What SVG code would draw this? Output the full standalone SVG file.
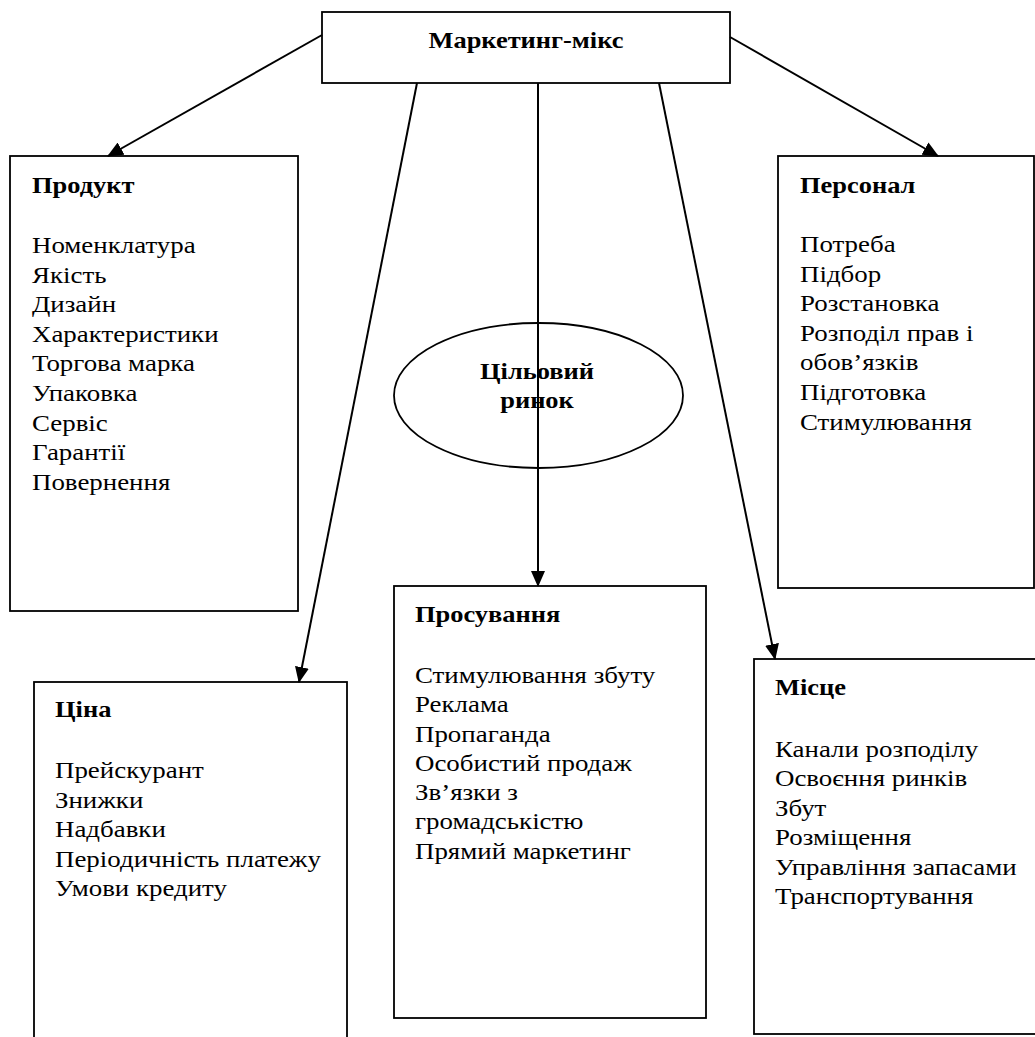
<svg xmlns="http://www.w3.org/2000/svg" width="1035" height="1037" viewBox="0 0 1035 1037">
<defs>
<style>
.box{fill:#fff;stroke:#000;stroke-width:1.8}
.t{font-family:"Liberation Serif","Times New Roman",serif;font-size:23px;fill:#000}
.h{font-family:"Liberation Serif","Times New Roman",serif;font-size:23px;font-weight:bold;fill:#000}
.c{stroke:#000;stroke-width:2;fill:none;marker-end:url(#ah)}
</style>
<marker id="ah" markerWidth="16" markerHeight="14" refX="15" refY="7" orient="auto" markerUnits="userSpaceOnUse">
<path d="M0,0 L16,7 L0,14 Z" fill="#000"/>
</marker>
</defs>
<rect width="1035" height="1037" fill="#fff"/>

<g id="node-mix">
<rect class="box" x="322" y="12" width="408" height="71"/>
<g transform="translate(526,0) scale(1.15,1)">
<text class="h" x="0" y="48" text-anchor="middle">Маркетинг-мікс</text>
</g>
</g>

<g id="node-product">
<rect class="box" x="10" y="156" width="288" height="455"/>
<g transform="translate(32,0) scale(1.15,1)">
<text class="h" x="0" y="193">Продукт</text>
</g>
<g transform="translate(32,0) scale(1.17,1)">
<text class="t" x="0" y="253">Номенклатура</text>
<text class="t" x="0" y="282.6">Якість</text>
<text class="t" x="0" y="312.2">Дизайн</text>
<text class="t" x="0" y="341.8">Характеристики</text>
<text class="t" x="0" y="371.4">Торгова марка</text>
<text class="t" x="0" y="401">Упаковка</text>
<text class="t" x="0" y="430.6">Сервіс</text>
<text class="t" x="0" y="460.2">Гарантії</text>
<text class="t" x="0" y="489.8">Повернення</text>
</g>
</g>

<g id="node-personnel">
<rect class="box" x="778" y="156" width="256" height="432"/>
<g transform="translate(800,0) scale(1.15,1)">
<text class="h" x="0" y="193">Персонал</text>
</g>
<g transform="translate(800,0) scale(1.17,1)">
<text class="t" x="0" y="252">Потреба</text>
<text class="t" x="0" y="281.6">Підбор</text>
<text class="t" x="0" y="311.2">Розстановка</text>
<text class="t" x="0" y="340.8">Розподіл прав і</text>
<text class="t" x="0" y="370.4">обов’язків</text>
<text class="t" x="0" y="400">Підготовка</text>
<text class="t" x="0" y="429.6">Стимулювання</text>
</g>
</g>

<g id="node-target">
<ellipse cx="538.5" cy="395.5" rx="144.5" ry="72.5" fill="#fff" stroke="#000" stroke-width="1.8"/>
<g transform="translate(537,0) scale(1.15,1)">
<text class="h" x="0" y="379" text-anchor="middle">Цільовий</text>
<text class="h" x="0" y="408" text-anchor="middle">ринок</text>
</g>
</g>

<g id="node-price">
<rect class="box" x="34" y="682" width="313" height="370"/>
<g transform="translate(55,0) scale(1.15,1)">
<text class="h" x="0" y="717">Ціна</text>
</g>
<g transform="translate(55,0) scale(1.17,1)">
<text class="t" x="0" y="778">Прейскурант</text>
<text class="t" x="0" y="807.6">Знижки</text>
<text class="t" x="0" y="837.2">Надбавки</text>
<text class="t" x="0" y="866.8">Періодичність платежу</text>
<text class="t" x="0" y="896.4">Умови кредиту</text>
</g>
</g>

<g id="node-promotion">
<rect class="box" x="394" y="586" width="312" height="432"/>
<g transform="translate(415,0) scale(1.15,1)">
<text class="h" x="0" y="622">Просування</text>
</g>
<g transform="translate(415,0) scale(1.17,1)">
<text class="t" x="0" y="683">Стимулювання збуту</text>
<text class="t" x="0" y="712.3">Реклама</text>
<text class="t" x="0" y="741.6">Пропаганда</text>
<text class="t" x="0" y="770.9">Особистий продаж</text>
<text class="t" x="0" y="800.2">Зв’язки з</text>
<text class="t" x="0" y="829.5">громадськістю</text>
<text class="t" x="0" y="858.8">Прямий маркетинг</text>
</g>
</g>

<g id="node-place">
<rect class="box" x="754" y="659" width="290" height="375"/>
<g transform="translate(775,0) scale(1.15,1)">
<text class="h" x="0" y="695">Місце</text>
</g>
<g transform="translate(775,0) scale(1.17,1)">
<text class="t" x="0" y="757">Канали розподілу</text>
<text class="t" x="0" y="786.5">Освоєння ринків</text>
<text class="t" x="0" y="816">Збут</text>
<text class="t" x="0" y="845.5">Розміщення</text>
<text class="t" x="0" y="875">Управління запасами</text>
<text class="t" x="0" y="904.5">Транспортування</text>
</g>
</g>

<g id="connectors">
<line class="c" x1="322" y1="35" x2="108" y2="156"/>
<line class="c" x1="730" y1="37" x2="938" y2="156"/>
<line class="c" x1="417" y1="83" x2="299" y2="682"/>
<line class="c" x1="538" y1="83" x2="538" y2="586"/>
<line class="c" x1="659" y1="83" x2="775" y2="659"/>
</g>
</svg>
